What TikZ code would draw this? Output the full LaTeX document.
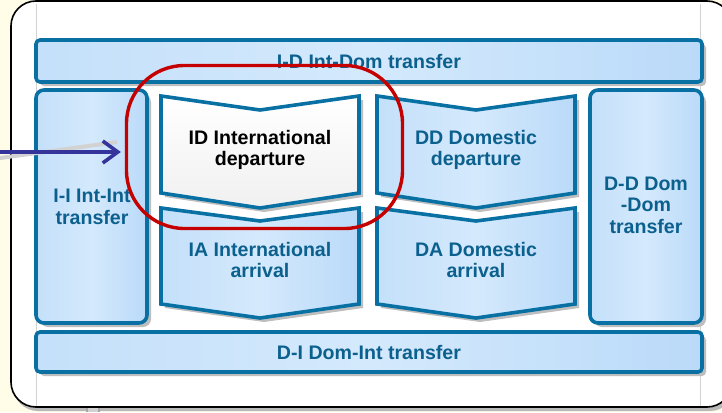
\documentclass[tikz,border=0pt]{standalone}
\usepackage{fontspec}
\setmainfont{Liberation Sans}
\usetikzlibrary{arrows.meta}
\definecolor{bgyellow}{RGB}{255,253,232}
\definecolor{boxblue}{RGB}{8,112,163}
\definecolor{textblue}{RGB}{12,96,142}
\definecolor{fillA}{RGB}{196,224,250}
\definecolor{fillB}{RGB}{186,218,249}
\definecolor{fillM}{RGB}{212,233,252}
\definecolor{shadowgray}{RGB}{190,190,190}
\definecolor{ringred}{RGB}{196,0,0}
\definecolor{arrowblue}{RGB}{52,52,155}
\begin{document}
\begin{tikzpicture}[x=1pt,y=-1pt,
  bluebox/.style={draw=boxblue, line width=3.6pt, left color=fillA, right color=fillB, middle color=fillM},
  whitebox/.style={draw=boxblue, line width=3.6pt, top color=white, bottom color={rgb,255:red,240;green,240;blue,240}},
  shadowbox/.style={fill=shadowgray},
  lbl/.style={font=\bfseries\fontsize{19.6}{21.5}\selectfont, text=textblue, align=center, inner sep=0pt},
  blacklbl/.style={lbl, text=black}]
\useasboundingbox (0,0) rectangle (722,412);
\fill[bgyellow] (0,0) rectangle (722,412);
% outer panel
\fill[gray!55, rounded corners=25] (13,4) rectangle (735,411);
\fill[white, draw=black, line width=1.6pt, rounded corners=25] (11,1) rectangle (732,407);
\draw[gray!35, line width=0.6pt] (36,4) -- (36,406);
\draw[gray!35, line width=0.6pt] (700,4) -- (700,406);
\fill[gray!70] (86,408) rectangle (100,412);
\fill[gray!35] (88,408) rectangle (98,412);

% top bar
\fill[shadowbox, rounded corners=4] (40,44) rectangle (706,86);
\draw[bluebox, rounded corners=4] (36,40) rectangle (702,82);
\node[lbl] (idtrans) at (369,61) {I-D Int-Dom transfer};

% left tall box
\fill[shadowbox, rounded corners=8] (40,94) rectangle (151,327);
\draw[bluebox, rounded corners=8] (36,90) rectangle (147,323);
\node[lbl] (iitrans) at (92,207) {I-I Int-Int\\transfer};

% right tall box
\fill[shadowbox, rounded corners=8] (594,94) rectangle (706,327);
\draw[bluebox, rounded corners=8] (590,90) rectangle (702,323);
\node[lbl] (ddtrans) at (646,205) {D-D Dom\\-Dom\\transfer};

% bottom bar
\fill[shadowbox, rounded corners=4] (40,336) rectangle (706,376);
\draw[bluebox, rounded corners=4] (36,332) rectangle (702,372);
\node[lbl] (ditrans) at (369,352) {D-I Dom-Int transfer};

% arrival pennants
\fill[shadowbox] (165,212) -- (264,225) -- (363,212) -- (363,308) -- (264,322) -- (165,308) -- cycle;
\draw[bluebox, line join=miter] (161,208) -- (260,221) -- (359,208) -- (359,304) -- (260,318) -- (161,304) -- cycle;
\node[lbl] (ia) at (260,260) {IA International\\arrival};

\fill[shadowbox] (381,212) -- (480,225) -- (579,212) -- (579,308) -- (480,322) -- (381,308) -- cycle;
\draw[bluebox, line join=miter] (377,208) -- (476,221) -- (575,208) -- (575,304) -- (476,318) -- (377,304) -- cycle;
\node[lbl] (da) at (476,260) {DA Domestic\\arrival};

% departure pennants
\fill[shadowbox] (165,100) -- (264,114) -- (363,100) -- (363,197) -- (264,212) -- (165,197) -- cycle;
\draw[whitebox, line join=miter] (161,96) -- (260,110) -- (359,96) -- (359,193) -- (260,208) -- (161,193) -- cycle;
\node[blacklbl] (id) at (260,150) {ID International\\departure};

\fill[shadowbox] (381,100) -- (480,114) -- (579,100) -- (579,197) -- (480,212) -- (381,197) -- cycle;
\draw[bluebox, line join=miter] (377,96) -- (476,110) -- (575,96) -- (575,193) -- (476,208) -- (377,193) -- cycle;
\node[lbl] (dd) at (476,150) {DD Domestic\\departure};

% red focus ring
\node[draw=ringred, line width=3.4pt, rounded corners=58, minimum width=276pt, minimum height=163pt, inner sep=0pt] (focus) at (264.5,147) {};

% arrow
\coordinate (from) at (0,152);
\draw[gray!35, line width=4pt, shorten >=8pt] (0,158) -- ([yshift=6pt]focus.west);
\draw[arrowblue, line width=3.4pt, shorten >=4pt, -{Straight Barb[length=15pt,width=22pt,line width=3.6pt]}] (from) -- (from -| focus.west);
\end{tikzpicture}
\end{document}
